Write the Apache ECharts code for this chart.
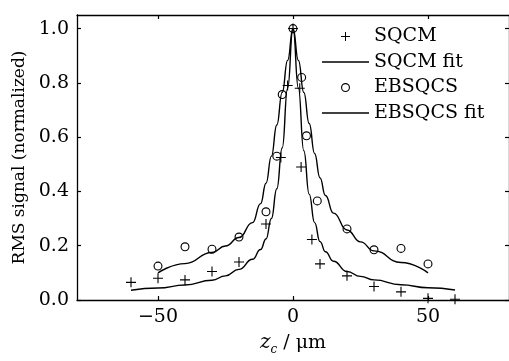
<!DOCTYPE html>
<html>
<head>
<meta charset="utf-8">
<script src="https://cdn.jsdelivr.net/npm/echarts@6/dist/echarts.min.js"></script>
<style>
  html, body { margin: 0; padding: 0; background: #fff; }
  #chart { width: 509px; height: 361px; }
</style>
</head>
<body>
<div id="chart"></div>
<script>
// measured points (z_c in um, normalized RMS signal)
const sqcmX = [-60, -50, -40, -30, -20, -10, -4.5, -2, 0, 2.5, 3, 7, 10, 20, 30, 40, 50, 60];
const sqcmY = [0.065, 0.08, 0.074, 0.105, 0.14, 0.28, 0.525, 0.79, 1.0, 0.78, 0.49, 0.223, 0.133, 0.089, 0.05, 0.03, 0.006, 0.003];

const ebX = [-50, -40, -30, -20, -10, -6, -4, 0, 3.2, 5, 9, 20, 30, 40, 50];
const ebY = [0.125, 0.196, 0.187, 0.232, 0.325, 0.53, 0.757, 1.0, 0.82, 0.605, 0.365, 0.262, 0.185, 0.19, 0.133];

// fitted curves
const sqcmFitX = [-60, -50, -40, -30, -25, -20, -15, -12, -10, -8, -6, -4, -2, 0, 2, 4, 6, 8, 10, 12, 15, 20, 25, 30, 40, 50, 60];
const sqcmFitY = [0.036, 0.044, 0.055, 0.073, 0.089, 0.113, 0.15, 0.186, 0.225, 0.30, 0.41, 0.56, 0.78, 1.0, 0.78, 0.55, 0.39, 0.285, 0.215, 0.178, 0.143, 0.105, 0.087, 0.074, 0.056, 0.045, 0.037];

const ebFitX = [-50, -40, -30, -25, -20, -15, -12, -10, -8, -6, -4, -2, 0, 2, 4, 6, 8, 10, 12, 15, 20, 25, 30, 40, 50];
const ebFitY = [0.10, 0.134, 0.175, 0.199, 0.23, 0.285, 0.355, 0.43, 0.53, 0.645, 0.765, 0.883, 1.0, 0.883, 0.765, 0.65, 0.54, 0.45, 0.385, 0.32, 0.258, 0.214, 0.181, 0.138, 0.10];

const xTicks = [-50, 0, 50];
const yTicks = [0, 0.2, 0.4, 0.6, 0.8, 1.0];

const zip = (xs, ys) => xs.map((x, i) => [x, ys[i]]);

const serif = 'DejaVu Serif';
const plusIcon = 'path://M0,4.45H10V5.55H0Z M4.45,0H5.55V10H4.45Z';
// thin open ring (outer clockwise, inner counter-clockwise leaves a hole)
const ringIcon = 'path://M0,5A5,5 0 1,1 10,5A5,5 0 1,1 0,5Z M1.25,5A3.75,3.75 0 1,0 8.75,5A3.75,3.75 0 1,0 1.25,5Z';
const lineIcon = 'path://M0,0H47V1.3H0Z';

const axisLine = { show: true, onZero: false, lineStyle: { color: '#000', width: 1.3 } };
const tick = { show: true, inside: true, length: 4, lineStyle: { color: '#000', width: 1.2 } };

const chart = echarts.init(document.getElementById('chart'), null, { renderer: 'canvas' });

chart.setOption({
  backgroundColor: '#fff',
  animation: false,
  grid: { left: 77, top: 15, right: -2, bottom: 51, containLabel: false },
  legend: {
    orient: 'vertical',
    left: 322,
    top: 27,
    padding: 0,
    itemWidth: 47,
    itemHeight: 9,
    itemGap: 6.5,
    textStyle: { fontFamily: serif, fontSize: 19, color: '#000', lineHeight: 19 },
    data: [
      { name: 'SQCM', icon: plusIcon },
      { name: 'SQCM fit', icon: lineIcon },
      { name: 'EBSQCS', icon: ringIcon },
      { name: 'EBSQCS fit', icon: lineIcon }
    ]
  },
  xAxis: [
    {
      type: 'value', min: -80, max: 80,
      name: '{z|z}{c|c} / μm',
      nameLocation: 'middle',
      nameGap: 30,
      nameTextStyle: {
        fontFamily: serif, fontSize: 19, color: '#000',
        rich: {
          z: { fontFamily: serif, fontStyle: 'italic', fontSize: 20, color: '#000' },
          c: { fontFamily: serif, fontStyle: 'italic', fontSize: 12, color: '#000', padding: [14, 0, 0, 0] }
        }
      },
      axisLine: axisLine,
      axisTick: Object.assign({ customValues: xTicks }, tick),
      axisLabel: {
        customValues: xTicks, margin: 8,
        fontFamily: serif, fontSize: 19, color: '#000',
        formatter: v => String(v).replace('-', '\u2212')
      },
      splitLine: { show: false }
    },
    {
      type: 'value', min: -80, max: 80, position: 'top',
      axisLine: axisLine,
      axisTick: Object.assign({ customValues: xTicks }, tick),
      axisLabel: { show: false },
      splitLine: { show: false }
    }
  ],
  yAxis: [
    {
      type: 'value', min: 0, max: 1.05,
      name: 'RMS signal (normalized)',
      nameLocation: 'middle',
      nameRotate: 90,
      nameGap: 45,
      nameTextStyle: { fontFamily: serif, fontSize: 17, color: '#000' },
      axisLine: axisLine,
      axisTick: Object.assign({ customValues: yTicks }, tick),
      axisLabel: {
        customValues: yTicks, margin: 8,
        fontFamily: serif, fontSize: 19, color: '#000',
        formatter: v => v.toFixed(1)
      },
      splitLine: { show: false }
    },
    {
      type: 'value', min: 0, max: 1.05, position: 'right',
      axisLine: axisLine,
      axisTick: Object.assign({ customValues: yTicks }, tick),
      axisLabel: { show: false },
      splitLine: { show: false }
    }
  ],
  series: [
    {
      name: 'SQCM', type: 'scatter',
      data: zip(sqcmX, sqcmY),
      symbol: plusIcon, symbolSize: 10,
      itemStyle: { color: '#000', opacity: 1 },
      z: 3
    },
    {
      name: 'SQCM fit', type: 'line',
      data: zip(sqcmFitX, sqcmFitY),
      smooth: 0.5, smoothMonotone: 'x',
      symbol: 'none', showSymbol: false,
      lineStyle: { color: '#000', width: 1.4 },
      itemStyle: { color: '#000' }
    },
    {
      name: 'EBSQCS', type: 'scatter',
      data: zip(ebX, ebY),
      symbol: ringIcon, symbolSize: 9,
      itemStyle: { color: '#000', opacity: 1 },
      z: 3
    },
    {
      name: 'EBSQCS fit', type: 'line',
      data: zip(ebFitX, ebFitY),
      smooth: 0.5, smoothMonotone: 'x',
      symbol: 'none', showSymbol: false,
      lineStyle: { color: '#000', width: 1.4 },
      itemStyle: { color: '#000' }
    }
  ]
});
</script>
</body>
</html>
